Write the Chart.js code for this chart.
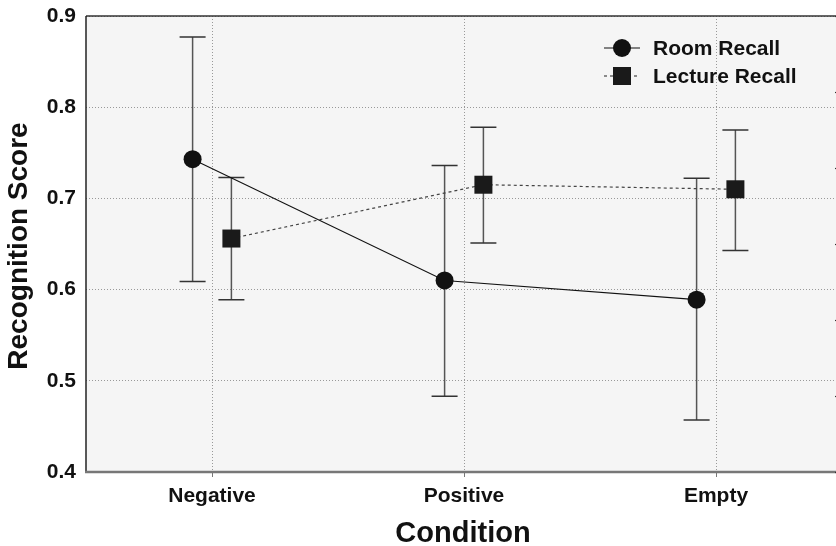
<!DOCTYPE html>
<html>
<head>
<meta charset="utf-8">
<style>
html,body{margin:0;padding:0;background:#fff;overflow:hidden;}
#c{display:block;width:846px !important;height:546px !important;max-width:none !important;}
</style>
<script src="https://cdn.jsdelivr.net/npm/chart.js@4.4.1/dist/chart.umd.min.js"></script>
</head>
<body>
<canvas id="c" width="846" height="546"></canvas>
<script>
const categories = ['Negative', 'Positive', 'Empty'];
const yTicks = [0.4, 0.5, 0.6, 0.7, 0.8, 0.9];
const rightTicks = [0, 1, 2, 3, 4, 5, 6];
const roomMean = [0.743, 0.610, 0.589];
const roomUpper = [0.877, 0.736, 0.722];
const roomLower = [0.609, 0.483, 0.457];
const lectureMean = [0.656, 0.715, 0.710];
const lectureUpper = [0.723, 0.778, 0.775];
const lectureLower = [0.589, 0.651, 0.643];
const seriesNames = ['Room Recall', 'Lecture Recall'];
const dodge = 0.077;

const FONT = "'Liberation Sans', Arial, sans-serif";

function pts(vals, off){ return vals.map((v,i)=>({x:i+off, y:v})); }

const errorBars = [
  {off:-dodge, lo:roomLower, hi:roomUpper},
  {off:dodge, lo:lectureLower, hi:lectureUpper}
];

function zeroPad(s){ s.paddingTop = 0; s.paddingBottom = 0; s.paddingLeft = 0; s.paddingRight = 0; }

const bgPlugin = {
  id:'bg',
  beforeDraw(chart){
    const {ctx, chartArea:a} = chart;
    ctx.save();
    ctx.fillStyle = '#f5f5f5';
    ctx.fillRect(a.left, a.top, a.right-a.left, a.bottom-a.top);
    ctx.restore();
  },
  beforeDatasetsDraw(chart){
    const {ctx, scales:{x,y}} = chart;
    ctx.save();
    errorBars.forEach(eb=>{
      categories.forEach((c,i)=>{
        const px = x.getPixelForValue(i+eb.off);
        const pt = y.getPixelForValue(eb.hi[i]);
        const pb = y.getPixelForValue(eb.lo[i]);
        ctx.strokeStyle = '#555';
        ctx.lineWidth = 1.5;
        ctx.beginPath(); ctx.moveTo(px, pt); ctx.lineTo(px, pb); ctx.stroke();
        ctx.strokeStyle = '#333';
        ctx.beginPath();
        ctx.moveTo(px-13, pt); ctx.lineTo(px+13, pt);
        ctx.moveTo(px-13, pb); ctx.lineTo(px+13, pb);
        ctx.stroke();
      });
    });
    ctx.restore();
  },
  afterDraw(chart){
    const {ctx, chartArea:a, scales:{y2}} = chart;
    ctx.save();
    // borders
    ctx.strokeStyle = '#333'; ctx.lineWidth = 1.5;
    ctx.beginPath(); ctx.moveTo(a.left, a.top); ctx.lineTo(a.right, a.top); ctx.stroke();
    ctx.strokeStyle = '#222';
    ctx.beginPath(); ctx.moveTo(a.left, a.top); ctx.lineTo(a.left, a.bottom); ctx.stroke();
    ctx.strokeStyle = '#777'; ctx.lineWidth = 2.5;
    ctx.beginPath(); ctx.moveTo(a.left-1, a.bottom); ctx.lineTo(a.right, a.bottom); ctx.stroke();
    // right-side inward ticks
    ctx.strokeStyle = '#333'; ctx.lineWidth = 1.2;
    rightTicks.forEach(v=>{
      const py = Math.round(y2.getPixelForValue(v)) + 0.5;
      ctx.beginPath(); ctx.moveTo(a.right-7, py); ctx.lineTo(a.right, py); ctx.stroke();
    });
    // axis titles
    ctx.fillStyle = '#111';
    ctx.font = "bold 28px " + FONT;
    ctx.textAlign = 'center';
    ctx.textBaseline = 'alphabetic';
    ctx.save();
    ctx.translate(27, 246);
    ctx.rotate(-Math.PI/2);
    ctx.fillText('Recognition Score', 0, 0);
    ctx.restore();
    ctx.font = "bold 29px " + FONT;
    ctx.fillText('Condition', 463, 542);
    // legend
    const lx1 = 604, lx2 = 640, cx = 622;
    const rows = [48, 76];
    ctx.strokeStyle = '#111'; ctx.lineWidth = 1.2;
    ctx.beginPath(); ctx.moveTo(lx1, rows[0]); ctx.lineTo(lx2, rows[0]); ctx.stroke();
    ctx.fillStyle = '#111';
    ctx.beginPath(); ctx.arc(cx, rows[0], 9, 0, Math.PI*2); ctx.fill();
    ctx.strokeStyle = '#444'; ctx.setLineDash([3,3]);
    ctx.beginPath(); ctx.moveTo(lx1, rows[1]); ctx.lineTo(lx2, rows[1]); ctx.stroke();
    ctx.setLineDash([]);
    ctx.fillStyle = '#1a1a1a';
    ctx.fillRect(cx-9, rows[1]-9, 18, 18);
    ctx.fillStyle = '#111';
    ctx.font = "bold 21px " + FONT;
    ctx.textAlign = 'left';
    ctx.textBaseline = 'middle';
    ctx.fillText(seriesNames[0], 653, rows[0]+1);
    ctx.fillText(seriesNames[1], 653, rows[1]+1);
    ctx.restore();
  }
};

new Chart(document.getElementById('c'), {
  type: 'scatter',
  data: {
    datasets: [
      {
        label: seriesNames[0],
        data: pts(roomMean, -dodge),
        showLine: true,
        borderColor: '#111',
        borderWidth: 1.1,
        backgroundColor: '#111',
        pointBackgroundColor: '#111',
        pointBorderColor: '#111',
        pointStyle: 'circle',
        pointRadius: 9,
        pointBorderWidth: 0,
        pointHoverRadius: 9
      },
      {
        label: seriesNames[1],
        data: pts(lectureMean, dodge),
        showLine: true,
        borderColor: '#444',
        borderWidth: 1.2,
        borderDash: [3,3],
        backgroundColor: '#1a1a1a',
        pointBackgroundColor: '#1a1a1a',
        pointBorderColor: '#1a1a1a',
        pointStyle: 'rect',
        pointRadius: 12.73,
        pointBorderWidth: 0,
        pointHoverRadius: 12.73
      }
    ]
  },
  options: {
    responsive: false,
    animation: false,
    layout: { autoPadding: false, padding: { top: 16, right: 4, left: 0, bottom: 0 } },
    plugins: { legend: { display: false }, tooltip: { enabled: false } },
    scales: {
      x: {
        type: 'linear',
        min: -0.5, max: 2.5,
        afterBuildTicks: s => { s.ticks = categories.map((c,i)=>({value:i})); },
        afterFit: s => { s.height = 74; zeroPad(s); },
        ticks: {
          callback: v => categories[v] ?? '',
          font: { family: FONT, size: 21, weight: 'bold' },
          color: '#111',
          padding: 7,
          maxRotation: 0, autoSkip: false
        },
        grid: { color: '#999', lineWidth: 1, drawTicks: true, tickLength: 5, tickColor: '#777' },
        border: { display: false, dash: [1,2] }
      },
      y: {
        min: 0.4, max: 0.9,
        afterBuildTicks: s => { s.ticks = yTicks.map(v=>({value:v})); },
        afterFit: s => { s.width = 86; zeroPad(s); },
        ticks: {
          callback: v => v.toFixed(1),
          font: { family: FONT, size: 21, weight: 'bold' },
          color: '#111',
          padding: 10
        },
        grid: { color: '#999', lineWidth: 1, drawTicks: false },
        border: { display: false, dash: [1,2] }
      },
      y2: {
        position: 'right',
        min: 0, max: 6,
        afterBuildTicks: s => { s.ticks = rightTicks.map(v=>({value:v})); },
        afterFit: s => { s.width = 0; zeroPad(s); },
        ticks: { display: false },
        grid: { display: false },
        border: { display: false }
      }
    }
  },
  plugins: [bgPlugin]
});
</script>
</body>
</html>
